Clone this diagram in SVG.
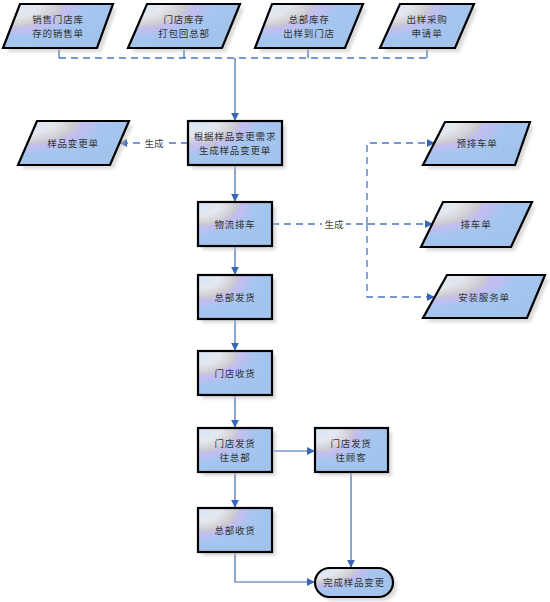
<svg xmlns="http://www.w3.org/2000/svg" width="550" height="602" viewBox="0 0 550 602">
<defs>
<radialGradient id="g" cx="0" cy="0" r="1.05" fx="0.05" fy="0.05" gradientUnits="objectBoundingBox">
<stop offset="0" stop-color="#d6e6f6"/>
<stop offset="0.25" stop-color="#e4e8ee"/>
<stop offset="0.4" stop-color="#d4d4da"/>
<stop offset="0.47" stop-color="#c8c8d2"/>
<stop offset="0.52" stop-color="#c4bef0"/>
<stop offset="0.62" stop-color="#b8c0f0"/>
<stop offset="0.7" stop-color="#a6c6ef"/>
<stop offset="1" stop-color="#a2c3ec"/>
</radialGradient>
<filter id="sh" x="-20%" y="-20%" width="140%" height="140%"><feGaussianBlur stdDeviation="1.5"/></filter>
<marker id="ar" viewBox="0 0 10 10" refX="9" refY="5" markerWidth="8" markerHeight="8" markerUnits="userSpaceOnUse" orient="auto">
<path d="M0,0 L10,5 L0,10 z" fill="#3a66b8"/>
</marker>
</defs>
<style>
.s{fill:#bdbdbd;opacity:0.55;filter:url(#sh)}
.n{fill:url(#g);stroke:#000;stroke-width:2.2;stroke-linejoin:miter}
.t{font-family:"Noto Sans CJK SC","Noto Sans",sans-serif;font-size:9.5px;letter-spacing:0.8px;fill:#333;text-anchor:middle;dominant-baseline:central}
.l{font-family:"Noto Sans CJK SC","Noto Sans",sans-serif;font-size:9.5px;fill:#444;text-anchor:middle;dominant-baseline:central}
.c{fill:none;stroke:#3a66b8;stroke-width:1.2}
.d{fill:none;stroke:#4a76c2;stroke-width:1.3;stroke-dasharray:7,5}
</style>

<g id="connectors">
<path class="c" d="M59,48 V58 M184,48 V58 M308,48 V58 M427,48 V58"/>
<path class="d" d="M59,58 H427"/>
<path class="c" d="M235,58 V120" marker-end="url(#ar)"/>
<path class="d" d="M188,143 H120" marker-end="url(#ar)"/>
<rect x="143" y="136" width="22" height="14" fill="#fff"/>
<text class="l" x="154" y="143">生成</text>
<path class="c" d="M235,165 V201" marker-end="url(#ar)"/>
<path class="d" d="M272,224 H432" marker-end="url(#ar)"/>
<path class="d" d="M367,224 V143 H434" marker-end="url(#ar)"/>
<path class="d" d="M367,224 V297 H434" marker-end="url(#ar)"/>
<rect x="322" y="217" width="24" height="14" fill="#fff"/>
<text class="l" x="334" y="224">生成</text>
<path class="c" d="M235,246 V274" marker-end="url(#ar)"/>
<path class="c" d="M235,319 V350" marker-end="url(#ar)"/>
<path class="c" d="M235,395 V427" marker-end="url(#ar)"/>
<path class="c" d="M235,472 V507" marker-end="url(#ar)"/>
<path class="c" d="M272,451 H314" marker-end="url(#ar)"/>
<path class="c" d="M351,472 V567" marker-end="url(#ar)"/>
<path class="c" d="M235,552 V582 H314" marker-end="url(#ar)"/>
</g>

<g id="n1">
<polygon class="s" points="24,8 117,8 101,52 7,52"/>
<polygon class="n" points="20,4 113,4 97,48 3,48"/>
<text class="t" x="58" y="19">销售门店库</text>
<text class="t" x="58" y="33">存的销售单</text>
</g>
<g id="n2">
<polygon class="s" points="151,8 244,8 226,52 132,52"/>
<polygon class="n" points="147,4 240,4 222,48 128,48"/>
<text class="t" x="184" y="19">门店库存</text>
<text class="t" x="184" y="33">打包回总部</text>
</g>
<g id="n3">
<polygon class="s" points="276,8 367,8 349,52 259,52"/>
<polygon class="n" points="272,4 363,4 345,48 255,48"/>
<text class="t" x="309" y="19">总部库存</text>
<text class="t" x="309" y="33">出样到门店</text>
</g>
<g id="n4">
<polygon class="s" points="404,8 478,8 459,52 384,52"/>
<polygon class="n" points="400,4 474,4 455,48 380,48"/>
<text class="t" x="427" y="19">出样采购</text>
<text class="t" x="427" y="33">申请单</text>
</g>

<g id="n5">
<rect class="s" x="192" y="125" width="94" height="44"/>
<rect class="n" x="188" y="121" width="94" height="44"/>
<text class="t" x="235" y="136">根据样品变更需求</text>
<text class="t" x="235" y="150">生成样品变更单</text>
</g>
<g id="n6">
<polygon class="s" points="41,125 133,125 114,169 22,169"/>
<polygon class="n" points="37,121 129,121 110,165 18,165"/>
<text class="t" x="73" y="143">样品变更单</text>
</g>

<g id="n7">
<rect class="s" x="202" y="206" width="74" height="44"/>
<rect class="n" x="198" y="202" width="74" height="44"/>
<text class="t" x="235" y="224">物流排车</text>
</g>
<g id="n8">
<polygon class="s" points="449,126 534,126 519,169 427,169"/>
<polygon class="n" points="445,122 530,122 515,165 423,165"/>
<text class="t" x="477" y="143">预排车单</text>
</g>
<g id="n9">
<polygon class="s" points="447,206 536,206 515,251 425,251"/>
<polygon class="n" points="443,202 532,202 511,247 421,247"/>
<text class="t" x="476" y="224">排车单</text>
</g>
<g id="n10">
<polygon class="s" points="451,279 549,279 531,322 427,322"/>
<polygon class="n" points="447,275 545,275 527,318 423,318"/>
<text class="t" x="484" y="297">安装服务单</text>
</g>

<g id="n11">
<rect class="s" x="202" y="279" width="74" height="44"/>
<rect class="n" x="198" y="275" width="74" height="44"/>
<text class="t" x="235" y="297">总部发货</text>
</g>
<g id="n12">
<rect class="s" x="202" y="355" width="74" height="44"/>
<rect class="n" x="198" y="351" width="74" height="44"/>
<text class="t" x="235" y="373">门店收货</text>
</g>
<g id="n13">
<rect class="s" x="202" y="432" width="74" height="44"/>
<rect class="n" x="198" y="428" width="74" height="44"/>
<text class="t" x="235" y="443">门店发货</text>
<text class="t" x="235" y="457">往总部</text>
</g>
<g id="n14">
<rect class="s" x="319" y="432" width="73" height="44"/>
<rect class="n" x="315" y="428" width="73" height="44"/>
<text class="t" x="351" y="443">门店发货</text>
<text class="t" x="351" y="457">往顾客</text>
</g>
<g id="n15">
<rect class="s" x="202" y="512" width="74" height="44"/>
<rect class="n" x="198" y="508" width="74" height="44"/>
<text class="t" x="235" y="530">总部收货</text>
</g>
<g id="n16">
<rect class="s" x="319" y="572" width="78" height="29" rx="14.5"/>
<rect class="n" x="315" y="568" width="78" height="29" rx="14.5"/>
<text class="t" x="354" y="582">完成样品变更</text>
</g>
</svg>
